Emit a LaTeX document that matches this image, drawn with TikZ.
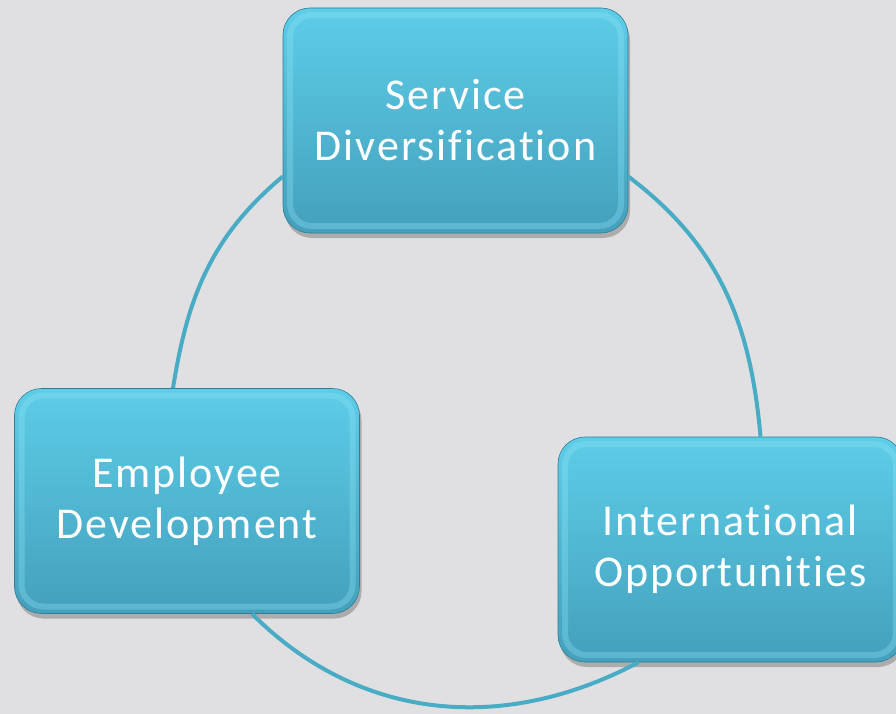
\documentclass[tikz,border=0pt]{standalone}
\usepackage{fontspec}
\setmainfont{Carlito}[Ligatures=NoCommon]
\usetikzlibrary{shadows}
\definecolor{bggray}{RGB}{224,224,226}
\definecolor{tealtop}{RGB}{93,205,232}
\definecolor{tealbot}{RGB}{68,160,188}
\definecolor{tealrim}{RGB}{50,125,148}
\definecolor{tealglow}{RGB}{150,232,250}
\definecolor{ringline}{RGB}{72,172,197}
\begin{document}
\begin{tikzpicture}[x=1pt,y=-1pt,
  cyclebox/.style={rectangle,rounded corners=27pt,minimum width=345pt,minimum height=225pt,
    inner sep=0pt,top color=tealtop,bottom color=tealbot,draw=tealrim,line width=0.6pt,
    text=white,align=center,font=\fontsize{44}{51}\selectfont\addfontfeature{LetterSpace=4.5},
    drop shadow={shadow xshift=2pt,shadow yshift=-5pt,opacity=0.35,fill=black!70},
    path picture={\draw[tealglow,opacity=0.3,line width=6pt,rounded corners=22pt]
      ([xshift=7pt,yshift=-7pt]path picture bounding box.north west) rectangle
      ([xshift=-7pt,yshift=7pt]path picture bounding box.south east);}},
  ring/.style={ringline,line width=4pt}]
\useasboundingbox (0,0) rectangle (896,714);
\clip (0,0) rectangle (896,714);
\fill[bggray] (0,0) rectangle (896,714);

\node[cyclebox] (service) at (455.5,120.5) {Service\\Diversification};
\node[cyclebox] (employee) at (187,501) {Employee\\Development};
\node[cyclebox] (intl) at (730.5,549.5) {International\\Opportunities};

\draw[ring] ([yshift=-56pt]service.west) to[out=220,in=81] ([xshift=-14pt]employee.north);
\draw[ring] ([yshift=-56pt]service.east) to[out=-37,in=95] ([xshift=30pt]intl.north);
\draw[ring] ([xshift=65pt]employee.south) to[out=-45,in=208] ([xshift=-92pt]intl.south);
\end{tikzpicture}
\end{document}
